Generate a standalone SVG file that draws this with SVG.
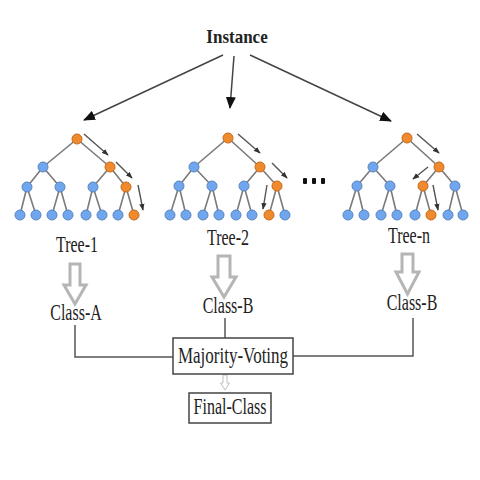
<svg xmlns="http://www.w3.org/2000/svg" width="480" height="480" viewBox="0 0 480 480">
<style>
.t{font-family:"Liberation Serif","Times New Roman",serif;fill:#222;text-anchor:middle}
.e{stroke:#7a7a7a;stroke-width:1.6;fill:none}
.b{fill:#6fa6ee;stroke:#5a86c0;stroke-width:1}
.o{fill:#ef8a2e;stroke:#c8691a;stroke-width:1}
.sa{stroke:#555;stroke-width:1.4;fill:none;marker-end:url(#sm)}
.ia{stroke:#444;stroke-width:1.5;fill:none;marker-end:url(#big)}
.ln{stroke:#555;stroke-width:1.5;fill:none}
.ha{fill:#fff;stroke:#b5b5b5;stroke-width:3;stroke-linejoin:miter}
.bx{fill:#fff;stroke:#444;stroke-width:1.5}
</style>
<defs>
<marker id="big" viewBox="0 0 12 10" refX="11" refY="5" markerWidth="12" markerHeight="10" markerUnits="userSpaceOnUse" orient="auto"><path d="M0,0 L12,5 L0,10 z" fill="#111"/></marker>
<marker id="sm" viewBox="0 0 8 6" refX="7" refY="3" markerWidth="7" markerHeight="6" markerUnits="userSpaceOnUse" orient="auto"><path d="M0,0 L8,3 L0,6 z" fill="#333"/></marker>
</defs>
<rect width="480" height="480" fill="#fff"/>

<g id="instance"><text class="t" transform="translate(237,43) scale(1,1.15)" font-size="17" font-weight="bold">Instance</text></g>

<g id="connectors">
<line class="ia" x1="223" y1="55" x2="84" y2="120"/>
<line class="ia" x1="234" y1="56" x2="230" y2="108"/>
<line class="ia" x1="250" y1="55" x2="391" y2="121"/>
<path class="ha" d="M70,264 L80,264 L80,285 L86,285 L75,304 L64,285 L70,285 Z"/>
<path class="ha" d="M218,256 L230,256 L230,277 L236,277 L224,297 L212,277 L218,277 Z"/>
<path class="ha" d="M402,254 L413,254 L413,272 L419,272 L407.5,294 L396,272 L402,272 Z"/>
<polyline class="ln" points="75,325 75,357 173,357"/>
<line class="ln" x1="225" y1="318" x2="225" y2="338"/>
<polyline class="ln" points="413,318 413,356 293,356"/>
<path d="M223,375 L227,375 L227,383 L229.5,383 L225,390 L220.5,383 L223,383 Z" fill="#fff" stroke="#c0c0c0" stroke-width="1"/>
</g>

<g id="tree-1">
<g class="e">
<path d="M77,139 L43,167 M77,139 L110,167 M43,167 L27,187 M43,167 L60,187 M110,167 L93,187 M110,167 L126,187 M27,187 L20,215 M27,187 L36,215 M60,187 L52,215 M60,187 L68,215 M93,187 L86,215 M93,187 L102,215 M126,187 L118,215 M126,187 L134,215"/>
</g>
<circle class="o" cx="77" cy="139" r="5"/>
<circle class="b" cx="43" cy="167" r="5"/><circle class="o" cx="110" cy="167" r="5"/>
<circle class="b" cx="27" cy="187" r="5"/><circle class="b" cx="60" cy="187" r="5"/><circle class="b" cx="93" cy="187" r="5"/><circle class="o" cx="126" cy="187" r="5"/>
<circle class="b" cx="20" cy="215" r="5"/><circle class="b" cx="36" cy="215" r="5"/><circle class="b" cx="52" cy="215" r="5"/><circle class="b" cx="68" cy="215" r="5"/><circle class="b" cx="86" cy="215" r="5"/><circle class="b" cx="102" cy="215" r="5"/><circle class="b" cx="118" cy="215" r="5"/><circle class="o" cx="134" cy="215" r="5"/>
<line class="sa" x1="84" y1="134" x2="108" y2="155"/>
<line class="sa" x1="116" y1="162" x2="132" y2="178"/>
<line class="sa" x1="138" y1="185" x2="143" y2="210"/>
<text class="t" transform="translate(77,252) scale(1,1.4)" font-size="16">Tree-1</text>
</g>

<g id="tree-2">
<g class="e">
<path d="M228,138 L194,167 M228,138 L260,167 M194,167 L179,186 M194,167 L212,186 M260,167 L244,186 M260,167 L277,186 M179,186 L170,215 M179,186 L186,215 M212,186 L203,215 M212,186 L219,215 M244,186 L236,215 M244,186 L252,215 M277,186 L269,215 M277,186 L285,215"/>
</g>
<circle class="o" cx="228" cy="138" r="5"/>
<circle class="b" cx="194" cy="167" r="5"/><circle class="o" cx="260" cy="167" r="5"/>
<circle class="b" cx="179" cy="186" r="5"/><circle class="b" cx="212" cy="186" r="5"/><circle class="b" cx="244" cy="186" r="5"/><circle class="o" cx="277" cy="186" r="5"/>
<circle class="b" cx="170" cy="215" r="5"/><circle class="b" cx="186" cy="215" r="5"/><circle class="b" cx="203" cy="215" r="5"/><circle class="b" cx="219" cy="215" r="5"/><circle class="b" cx="236" cy="215" r="5"/><circle class="b" cx="252" cy="215" r="5"/><circle class="o" cx="269" cy="215" r="5"/><circle class="b" cx="285" cy="215" r="5"/>
<line class="sa" x1="238" y1="134" x2="260" y2="153"/>
<line class="sa" x1="272" y1="163" x2="287" y2="178"/>
<line class="sa" x1="267" y1="185" x2="263" y2="209"/>
<text class="t" transform="translate(228,245) scale(1,1.4)" font-size="16">Tree-2</text>
</g>

<g id="dots" fill="#111">
<rect x="303" y="178" width="4" height="6" rx="1"/><rect x="312" y="178" width="4" height="6" rx="1"/><rect x="321" y="178" width="4" height="6" rx="1"/>
</g>

<g id="tree-n">
<g class="e">
<path d="M407,138 L373,167 M407,138 L439,167 M373,167 L357,186 M373,167 L390,186 M439,167 L423,186 M439,167 L455,186 M357,186 L348,215 M357,186 L364,215 M390,186 L381,215 M390,186 L397,215 M423,186 L415,215 M423,186 L431,215 M455,186 L448,215 M455,186 L463,215"/>
</g>
<circle class="o" cx="407" cy="138" r="5"/>
<circle class="b" cx="373" cy="167" r="5"/><circle class="o" cx="439" cy="167" r="5"/>
<circle class="b" cx="357" cy="186" r="5"/><circle class="b" cx="390" cy="186" r="5"/><circle class="o" cx="423" cy="186" r="5"/><circle class="b" cx="455" cy="186" r="5"/>
<circle class="b" cx="348" cy="215" r="5"/><circle class="b" cx="364" cy="215" r="5"/><circle class="b" cx="381" cy="215" r="5"/><circle class="b" cx="397" cy="215" r="5"/><circle class="b" cx="415" cy="215" r="5"/><circle class="o" cx="431" cy="215" r="5"/><circle class="b" cx="448" cy="215" r="5"/><circle class="b" cx="463" cy="215" r="5"/>
<line class="sa" x1="417" y1="134" x2="439" y2="153"/>
<line class="sa" x1="428" y1="167" x2="413" y2="179"/>
<line class="sa" x1="433" y1="185" x2="438" y2="210"/>
<text class="t" transform="translate(409,243) scale(1,1.4)" font-size="16">Tree-n</text>
</g>

<g id="class-a"><text class="t" transform="translate(76,320) scale(1,1.5)" font-size="16">Class-A</text></g>
<g id="class-b-2"><text class="t" transform="translate(228,313) scale(1,1.5)" font-size="16">Class-B</text></g>
<g id="class-b-n"><text class="t" transform="translate(412,310) scale(1,1.5)" font-size="16">Class-B</text></g>

<g id="majority-voting">
<rect class="bx" x="173" y="338" width="120" height="36"/>
<text class="t" transform="translate(233,363) scale(1,1.35)" font-size="17">Majority-Voting</text>
</g>
<g id="final-class">
<rect class="bx" x="189" y="393" width="82" height="30"/>
<text class="t" transform="translate(230,414) scale(1,1.4)" font-size="16">Final-Class</text>
</g>
</svg>
